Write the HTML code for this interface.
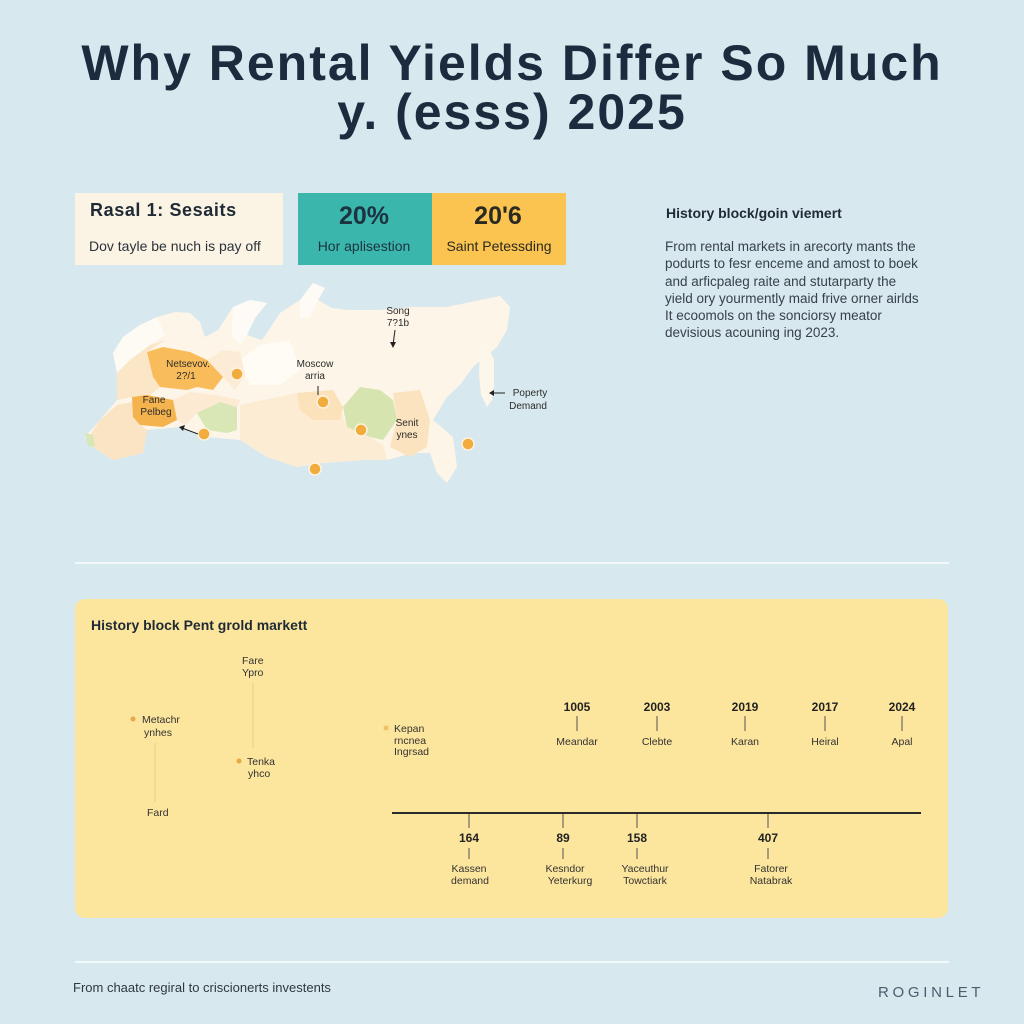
<!DOCTYPE html>
<html>
<head>
<meta charset="utf-8">
<style>
html,body{margin:0;padding:0;background:#d7e8ee;}
svg{display:block;}
text{font-family:"Liberation Sans",Arial,sans-serif;}
</style>
</head>
<body>
<svg width="1024" height="1024" viewBox="0 0 1024 1024" xmlns="http://www.w3.org/2000/svg">
  <rect x="0" y="0" width="1024" height="1024" fill="#d7e8ee"/>

  <!-- Title -->
  <text x="512" y="80" text-anchor="middle" font-size="50" font-weight="bold" fill="#1d2b3e" letter-spacing="2">Why Rental Yields Differ So Much</text>
  <text x="512" y="129" text-anchor="middle" font-size="50" font-weight="bold" fill="#1d2b3e" letter-spacing="2">y. (esss) 2025</text>

  <!-- Top boxes -->
  <rect x="75" y="193" width="208" height="72" fill="#fbf3e3"/>
  <text x="90" y="216" font-size="18" font-weight="bold" fill="#1f2a36" letter-spacing="0.6">Rasal 1: Sesaits</text>
  <text x="89" y="251" font-size="14" fill="#2a333d">Dov tayle be nuch is pay off</text>

  <rect x="298" y="193" width="134" height="72" fill="#3bb6ad"/>
  <rect x="432" y="193" width="134" height="72" fill="#fbc34f"/>
  <text x="364" y="224" text-anchor="middle" font-size="25" font-weight="bold" fill="#1c3340">20%</text>
  <text x="364" y="251" text-anchor="middle" font-size="14" fill="#1c3340">Hor aplisestion</text>
  <text x="498" y="224" text-anchor="middle" font-size="25" font-weight="bold" fill="#2a2a22">20'6</text>
  <text x="499" y="251" text-anchor="middle" font-size="14" fill="#2a2a22">Saint Petessding</text>

  <!-- Right text block -->
  <text x="666" y="218" font-size="14" font-weight="bold" fill="#1f2a36">History block/goin viemert</text>
  <g font-size="13.5" fill="#37414c">
    <text x="665" y="251">From rental markets in arecorty mants the</text>
    <text x="665" y="268">podurts to fesr enceme and amost to boek</text>
    <text x="665" y="286">and arficpaleg raite and stutarparty the</text>
    <text x="665" y="303">yield ory yourmently maid frive orner airlds</text>
    <text x="665" y="320">It ecoomols on the sonciorsy meator</text>
    <text x="665" y="337">devisious acouning ing 2023.</text>
  </g>

  <!-- Map -->
  <g>
    <path d="M85,437 L100,420 L117,400 L117,373 L113,353 L123,337 L140,325 L157,317 L175,312 L190,313 L200,322 L205,337 L218,330 L233,307 L250,300 L267,303 L255,318 L247,335 L262,340 L280,313 L300,300 L313,283 L325,288 L318,300 L332,308 L347,310 L380,310 L413,307 L447,307 L480,300 L500,296 L510,307 L507,330 L497,347 L473,367 L460,385 L447,397 L433,420 L453,437 L457,467 L447,483 L437,473 L430,453 L413,453 L387,460 L363,460 L323,463 L297,467 L267,457 L240,440 L207,437 L180,427 L147,430 L143,453 L113,460 L93,447 Z" fill="#fdf5e8"/>
    <path d="M233,307 L250,300 L267,303 L255,318 L247,335 L240,345 L232,335 Z" fill="#fefbf6"/>
    <path d="M300,300 L313,283 L325,288 L318,300 L310,318 L300,318 Z" fill="#fefbf6"/>
    <path d="M113,353 L123,337 L140,325 L157,317 L165,335 L150,345 L130,360 L117,373 Z" fill="#fefaf4"/>
    <path d="M240,360 L260,345 L290,340 L300,370 L280,385 L250,385 Z" fill="#fffbf5"/>
    <path d="M480,350 L488,345 L494,360 L494,385 L492,400 L487,407 L481,395 L479,375 Z" fill="#fdf6ea"/>
    <path d="M117,373 L130,360 L150,345 L165,340 L147,352 L153,377 L160,387 L150,395 L132,397 L117,400 Z" fill="#fbe6c8"/>
    <path d="M207,360 L223,350 L240,352 L245,375 L235,390 L223,377 Z" fill="#fcecd6"/>
    <path d="M173,400 L190,392 L215,395 L240,400 L237,407 L220,402 L197,413 L185,425 L177,420 Z" fill="#fcead2"/>
    <path d="M100,420 L117,405 L132,402 L140,425 L147,430 L143,453 L113,460 L93,447 L88,438 Z" fill="#fbe4c4"/>
    <path d="M85,433 L93,435 L95,447 L88,446 Z" fill="#d9e7b6"/>
    <path d="M240,405 L297,393 L333,390 L347,427 L370,437 L383,445 L387,460 L363,460 L323,463 L297,467 L267,457 L240,440 Z" fill="#fdecd4"/>
    <path d="M297,393 L333,390 L343,407 L340,420 L313,420 L300,410 Z" fill="#fbe2bb"/>
    <path d="M393,393 L420,390 L430,420 L427,447 L410,457 L390,447 L397,420 Z" fill="#fbe3bf"/>
    <path d="M147,352 L163,347 L190,352 L207,360 L223,377 L213,390 L197,387 L187,390 L160,387 L153,377 Z" fill="#f8bd5a"/>
    <path d="M132,397 L147,395 L173,400 L177,420 L163,427 L140,425 L133,417 Z" fill="#f5b34d"/>
    <path d="M197,413 L220,402 L237,407 L237,430 L227,433 L207,430 Z" fill="#d9e7b6"/>
    <path d="M343,407 L360,387 L380,390 L393,400 L397,420 L383,440 L370,437 L347,427 Z" fill="#d6e5b0"/>
    <g fill="#f1ac3d" stroke="#fdf3e0" stroke-width="1.5">
      <circle cx="237" cy="374" r="6"/>
      <circle cx="323" cy="402" r="6"/>
      <circle cx="361" cy="430" r="6"/>
      <circle cx="204" cy="434" r="6"/>
      <circle cx="315" cy="469" r="6"/>
      <circle cx="468" cy="444" r="6"/>
    </g>
    <g font-size="10" fill="#2c2c2c" text-anchor="middle">
      <text x="188" y="367">Netsevov.</text>
      <text x="186" y="379">2?/1</text>
      <text x="154" y="403">Fane</text>
      <text x="156" y="415">Pelbeg</text>
      <text x="315" y="367">Moscow</text>
      <text x="315" y="379">arria</text>
      <text x="398" y="314">Song</text>
      <text x="398" y="326">7?1b</text>
      <text x="407" y="426">Senit</text>
      <text x="407" y="438">ynes</text>
      <text x="530" y="396">Poperty</text>
      <text x="528" y="409">Demand</text>
    </g>
    <g stroke="#222" stroke-width="1" fill="#222">
      <line x1="318" y1="386" x2="318" y2="395"/>
      <line x1="395" y1="330" x2="393" y2="345"/>
      <path d="M390,342 L393,348 L396,342 Z" stroke="none"/>
      <line x1="505" y1="393" x2="492" y2="393"/>
      <path d="M494,390 L489,393 L494,396 Z" stroke="none"/>
      <line x1="198" y1="434" x2="182" y2="428"/>
      <path d="M185,425 L179,427 L183,431 Z" stroke="none"/>
    </g>
  </g>

  <!-- Divider -->
  <rect x="75" y="562" width="874" height="2" fill="#f3f8fa"/>

  <!-- Yellow panel -->
  <rect x="75" y="599" width="873" height="319" rx="10" fill="#fce59d"/>
  <text x="91" y="630" font-size="14" font-weight="bold" fill="#1f2a36">History block Pent grold markett</text>

  <g font-size="10.5" fill="#333">
    <circle cx="133" cy="719" r="2.5" fill="#e7a847"/>
    <text x="142" y="723">Metachr</text>
    <text x="144" y="736">ynhes</text>
    <line x1="155" y1="743" x2="155" y2="802" stroke="#eccb86" stroke-width="1"/>
    <text x="147" y="816">Fard</text>

    <text x="242" y="664">Fare</text>
    <text x="242" y="676">Ypro</text>
    <line x1="253" y1="683" x2="253" y2="748" stroke="#eccb86" stroke-width="1"/>
    <circle cx="239" cy="761" r="2.5" fill="#e7a847"/>
    <text x="247" y="765">Tenka</text>
    <text x="248" y="777">yhco</text>

    <circle cx="386" cy="728" r="2.5" fill="#efbf6a"/>
    <text x="394" y="732">Kepan</text>
    <text x="394" y="744">rncnea</text>
    <text x="394" y="755">Ingrsad</text>
  </g>

  <line x1="392" y1="813" x2="921" y2="813" stroke="#2a2a2a" stroke-width="2"/>
  <g font-size="12" font-weight="bold" fill="#222" text-anchor="middle">
    <text x="577" y="711">1005</text>
    <text x="657" y="711">2003</text>
    <text x="745" y="711">2019</text>
    <text x="825" y="711">2017</text>
    <text x="902" y="711">2024</text>
    <text x="469" y="842">164</text>
    <text x="563" y="842">89</text>
    <text x="637" y="842">158</text>
    <text x="768" y="842">407</text>
  </g>
  <g stroke="#555" stroke-width="1">
    <line x1="577" y1="716" x2="577" y2="731"/>
    <line x1="657" y1="716" x2="657" y2="731"/>
    <line x1="745" y1="716" x2="745" y2="731"/>
    <line x1="825" y1="716" x2="825" y2="731"/>
    <line x1="902" y1="716" x2="902" y2="731"/>
    <line x1="469" y1="814" x2="469" y2="828"/>
    <line x1="563" y1="814" x2="563" y2="828"/>
    <line x1="637" y1="814" x2="637" y2="828"/>
    <line x1="768" y1="814" x2="768" y2="828"/>
    <line x1="469" y1="848" x2="469" y2="859"/>
    <line x1="563" y1="848" x2="563" y2="859"/>
    <line x1="637" y1="848" x2="637" y2="859"/>
    <line x1="768" y1="848" x2="768" y2="859"/>
  </g>
  <g font-size="10.5" fill="#333" text-anchor="middle">
    <text x="577" y="745">Meandar</text>
    <text x="657" y="745">Clebte</text>
    <text x="745" y="745">Karan</text>
    <text x="825" y="745">Heiral</text>
    <text x="902" y="745">Apal</text>
    <text x="469" y="872">Kassen</text>
    <text x="470" y="884">demand</text>
    <text x="565" y="872">Kesndor</text>
    <text x="570" y="884">Yeterkurg</text>
    <text x="645" y="872">Yaceuthur</text>
    <text x="645" y="884">Towctiark</text>
    <text x="771" y="872">Fatorer</text>
    <text x="771" y="884">Natabrak</text>
  </g>

  <!-- Footer -->
  <rect x="75" y="961" width="874" height="2" fill="#f3f8fa"/>
  <text x="73" y="992" font-size="13" fill="#2f3740">From chaatc regiral to criscionerts investents</text>
  <text x="878" y="997" font-size="15" fill="#4c5d6f" letter-spacing="3.7">ROGINLET</text>
</svg>
</body>
</html>
